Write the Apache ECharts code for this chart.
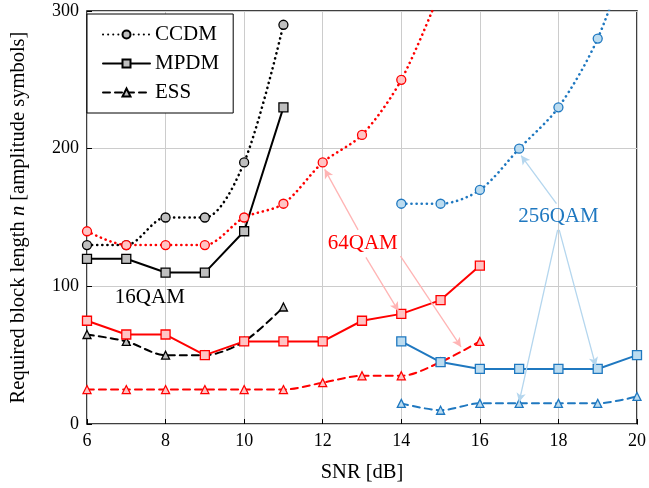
<!DOCTYPE html>
<html>
<head>
    <meta charset="utf-8" />
    <title></title>
    <script src="https://cdn.jsdelivr.net/npm/echarts@6/dist/echarts.min.js"></script>
    <style>
        * { margin: 0; padding: 0; }
        body { background: #fff; }
        #chart { width: 649px; height: 488px; }
    </style>
</head>
<body>
    <div id="chart"></div>
    <script>
        // x values (SNR in dB) per constellation
        const snr16 = [6, 7, 8, 9, 10, 11];
        const snr64 = [6, 7, 8, 9, 10, 11, 12, 13, 14, 15, 16];
        const snr64ccdm = [6, 7, 8, 9, 10, 11, 12, 13, 14, 15];
        const snr256 = [14, 15, 16, 17, 18, 19, 20];

        // 16QAM
        const ccdm16 = [130, 130, 150, 150, 190, 290];
        const mpdm16 = [120, 120, 110, 110, 140, 230];
        const ess16 = [65, 60, 50, 50, 60, 85];

        // 64QAM
        const ccdm64 = [140, 130, 130, 130, 150, 160, 190, 210, 250, 315];
        const mpdm64 = [75, 65, 65, 50, 60, 60, 60, 75, 80, 90, 115];
        const ess64 = [25, 25, 25, 25, 25, 25, 30, 35, 35, 45, 60];

        // 256QAM
        const ccdm256 = [160, 160, 170, 200, 230, 280, 360];
        const mpdm256 = [60, 45, 40, 40, 40, 40, 50];
        const ess256 = [15, 10, 15, 15, 15, 15, 20];

        const xTicks = [6, 8, 10, 12, 14, 16, 18, 20];
        const yTicks = [0, 100, 200, 300];

        const serif = "'Liberation Serif', 'DejaVu Serif', serif";

        const pair = (xs, ys) => xs.map((x, i) => [x, ys[i]]);

        const styles = {
            ccdm: { symbol: 'circle', size: 9, type: [0.1, 5], width: 2.6, smooth: 0.3 },
            mpdm: { symbol: 'rect', size: 9, type: 'solid', width: 2, smooth: false },
            ess: { symbol: 'triangle', size: 8, type: [7, 5], width: 2, smooth: 0.3 }
        };

        function makeSeries(name, kind, data, line, fill) {
            const s = styles[kind];
            return {
                name: name,
                type: 'line',
                data: data,
                smooth: s.smooth,
                symbol: s.symbol,
                symbolSize: s.size,
                showAllSymbol: true,
                lineStyle: { color: line, width: s.width, type: s.type, cap: 'round' },
                itemStyle: { color: fill, borderColor: line, borderWidth: 1.3 },
                emphasis: { disabled: true },
                z: 3
            };
        }

        function arrow(from, to, color) {
            return [
                { coord: from, lineStyle: { color: color, width: 1.3, type: 'solid' } },
                { coord: to }
            ];
        }

        const black = '#000000', gray = '#bfbfbf';
        const red = '#ff0000', pink = '#ffc4c4';
        const blue = '#1f78c0', lightBlue = '#bcdcf0';

        const noteLabel = (text, color) => ({
            show: true,
            formatter: text,
            color: color,
            textBorderWidth: 0,
            opacity: 1
        });

        const series = [
            // legend dummies
            makeSeries('CCDM', 'ccdm', [], black, gray),
            makeSeries('MPDM', 'mpdm', [], black, gray),
            makeSeries('ESS', 'ess', [], black, gray),

            makeSeries('ccdm16', 'ccdm', pair(snr16, ccdm16), black, gray),
            makeSeries('mpdm16', 'mpdm', pair(snr16, mpdm16), black, gray),
            makeSeries('ess16', 'ess', pair(snr16, ess16), black, gray),

            makeSeries('ccdm64', 'ccdm', pair(snr64ccdm, ccdm64), red, pink),
            makeSeries('mpdm64', 'mpdm', pair(snr64, mpdm64), red, pink),
            makeSeries('ess64', 'ess', pair(snr64, ess64), red, pink),

            makeSeries('ccdm256', 'ccdm', pair(snr256, ccdm256), blue, lightBlue),
            makeSeries('mpdm256', 'mpdm', pair(snr256, mpdm256), blue, lightBlue),
            makeSeries('ess256', 'ess', pair(snr256, ess256), blue, lightBlue),

            // annotations
            {
                name: 'notes',
                type: 'scatter',
                symbolSize: 1,
                itemStyle: { color: 'rgba(0,0,0,0)' },
                silent: true,
                z: 5,
                data: [
                    { value: [7.6, 92], label: noteLabel('16QAM', '#000') },
                    { value: [13.02, 131], label: noteLabel('64QAM', red) },
                    { value: [18, 151], label: noteLabel('256QAM', blue) }
                ],
                label: {
                    show: true,
                    position: 'inside',
                    fontFamily: serif,
                    fontSize: 21
                },
                markLine: {
                    silent: true,
                    symbol: ['none', 'arrow'],
                    symbolSize: [7, 9],
                    label: { show: false },
                    data: [
                        arrow([12.9, 141], [12.05, 185], '#ffb4b4'),
                        arrow([13.1, 121], [13.93, 82], '#ffb4b4'),
                        arrow([13.98, 122], [15.52, 56], '#ffb4b4'),
                        arrow([17.95, 160], [17.05, 195], '#b4d6ee'),
                        arrow([17.98, 141], [17.0, 16], '#b4d6ee'),
                        arrow([18.02, 141], [18.95, 42], '#b4d6ee')
                    ]
                }
            }
        ];

        const chart = echarts.init(document.getElementById('chart'));

        chart.setOption({
            animation: false,
            grid: {
                left: 86, right: 12, top: 11, bottom: 63,
                show: true, borderColor: '#000', borderWidth: 1.5
            },
            legend: {
                data: ['CCDM', 'MPDM', 'ESS'],
                orient: 'vertical',
                left: 87,
                top: 14,
                itemWidth: 47,
                itemHeight: 10,
                itemGap: 8,
                padding: [10, 14, 10, 15],
                borderColor: '#000',
                borderWidth: 1,
                backgroundColor: '#fff',
                textStyle: { fontFamily: serif, fontSize: 21, color: '#000' }
            },
            xAxis: {
                type: 'value',
                min: 6, max: 20, interval: 2,
                name: 'SNR [dB]',
                nameLocation: 'middle',
                nameGap: 38,
                nameTextStyle: { fontFamily: serif, fontSize: 20.5, color: '#000' },
                axisLine: { show: false },
                axisTick: { inside: true, length: 5, lineStyle: { color: '#000' } },
                axisLabel: { fontFamily: serif, fontSize: 18, color: '#000', margin: 8,
                    formatter: v => xTicks.includes(v) ? String(v) : '' },
                splitLine: { lineStyle: { color: '#cccccc', width: 1 } }
            },
            yAxis: {
                type: 'value',
                min: 0, max: 300, interval: 100,
                name: '{a|Required block length }{i|n}{a| [amplitude symbols]}',
                nameLocation: 'middle',
                nameGap: 58,
                nameTextStyle: {
                    color: '#000',
                    rich: {
                        a: { fontFamily: serif, fontSize: 20.5, color: '#000' },
                        i: { fontFamily: serif, fontSize: 20.5, fontStyle: 'italic', color: '#000' }
                    }
                },
                axisLine: { show: false },
                axisTick: { inside: true, length: 5, lineStyle: { color: '#000' } },
                axisLabel: { fontFamily: serif, fontSize: 18, color: '#000', margin: 8,
                    formatter: v => yTicks.includes(v) ? String(v) : '' },
                splitLine: { lineStyle: { color: '#cccccc', width: 1 } }
            },
            series: series
        });
    </script>
</body>
</html>
